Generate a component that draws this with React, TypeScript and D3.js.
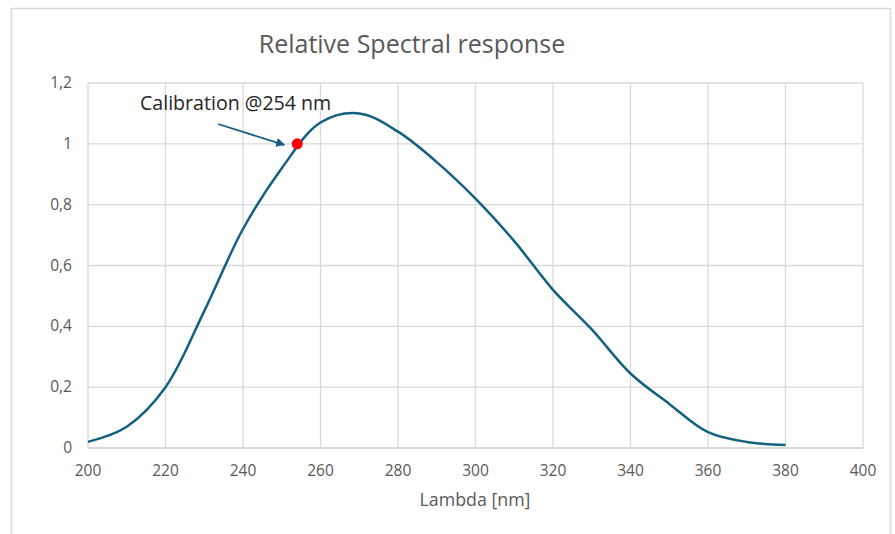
import React from "react";
import * as d3 from "d3";

const wavelengths = [200, 210, 220, 230, 240, 250, 260, 270, 280, 290, 300, 310, 320, 330, 340, 350, 360, 370, 380];
const response = [0.02, 0.07, 0.2, 0.45, 0.72, 0.92, 1.07, 1.1, 1.04, 0.94, 0.82, 0.68, 0.52, 0.39, 0.245, 0.145, 0.052, 0.02, 0.01];
const xTicks = [200, 220, 240, 260, 280, 300, 320, 340, 360, 380, 400];
const yTicks = [0, 0.2, 0.4, 0.6, 0.8, 1, 1.2];
const calibration = { x: 254, y: 1 };
const titleText = "Relative Spectral response";
const xAxisTitle = "Lambda [nm]";
const annotationText = "Calibration @254 nm";

const W = 895;
const H = 534;
const FONT = "'Open Sans', sans-serif";

export default function App() {
  const left = 88, right = 863, top = 83, bottom = 448;
  const x = d3.scaleLinear().domain([200, 400]).range([left, right]);
  const y = d3.scaleLinear().domain([0, 1.2]).range([bottom, top]);
  const pts = wavelengths.map((w, i) => [w, response[i]] as [number, number]);
  const line = d3
    .line<[number, number]>()
    .x((d) => x(d[0]))
    .y((d) => y(d[1]))
    .curve(d3.curveCatmullRom.alpha(0.5));
  const fmt = (v: number) => String(+v.toFixed(1)).replace(".", ",");
  const cx = x(calibration.x);
  const cy = y(calibration.y);
  const lineColor = "#156082";
  const grid = "#d9d9d9";
  const txt = "#595959";

  return (
    <svg
      width={W}
      height={H}
      style={{ position: "absolute", left: 0, top: 0, background: "#fff" }}
    >
      <defs>
        <marker id="arr" viewBox="0 0 10 10" refX="9" refY="5" markerWidth="5" markerHeight="5" orient="auto">
          <path d="M0,0 L10,5 L0,10 z" fill={lineColor} />
        </marker>
      </defs>
      <rect x={0} y={0} width={W} height={H} fill="#fff" />
      <rect x={11.5} y={8.5} width={879} height={540} fill="#fff" stroke={grid} strokeWidth={1.5} />
      <text x={412} y={53} textAnchor="middle" fontFamily={FONT} fontSize={25} fill={txt}>
        {titleText}
      </text>
      {xTicks.map((t) => (
        <line key={"gx" + t} x1={x(t)} x2={x(t)} y1={top} y2={bottom} stroke={grid} strokeWidth={1.3} />
      ))}
      {yTicks.map((t) => (
        <line key={"gy" + t} x1={left} x2={right} y1={y(t)} y2={y(t)} stroke={grid} strokeWidth={1.3} />
      ))}
      <line x1={left} x2={right} y1={bottom} y2={bottom} stroke={grid} strokeWidth={1.8} />
      {yTicks.map((t) => (
        <text key={"ly" + t} x={72} y={y(t) + 5} textAnchor="end" fontFamily={FONT} fontSize={15.5} fill={txt}>
          {fmt(t)}
        </text>
      ))}
      {xTicks.map((t) => (
        <text key={"lx" + t} x={x(t)} y={476} textAnchor="middle" fontFamily={FONT} fontSize={15.5} fill={txt}>
          {t}
        </text>
      ))}
      <text x={475} y={506} textAnchor="middle" fontFamily={FONT} fontSize={17.8} fill={txt}>
        {xAxisTitle}
      </text>
      <path d={line(pts) ?? ""} fill="none" stroke={lineColor} strokeWidth={2.5} />
      <line x1={218} y1={124} x2={cx - 13} y2={cy + 1} stroke={lineColor} strokeWidth={1.8} markerEnd="url(#arr)" />
      <circle cx={cx} cy={cy} r={5.5} fill="#ff0000" />
      <text x={140} y={110} fontFamily={FONT} fontSize={19.6} fill="#262626">
        {annotationText}
      </text>
    </svg>
  );
}
